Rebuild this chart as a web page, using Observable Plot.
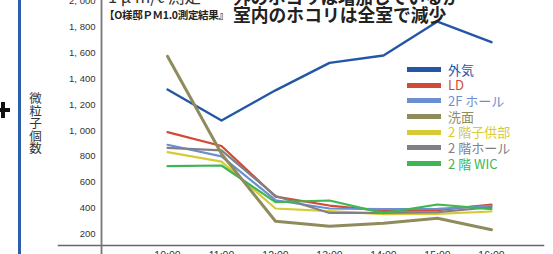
<!DOCTYPE html>
<html>
<head>
<meta charset="utf-8">
<script src="https://cdn.jsdelivr.net/npm/d3@7"></script>
<script src="https://cdn.jsdelivr.net/npm/@observablehq/plot@0.6"></script>
<style>
  html, body { margin: 0; padding: 0; background: #fff; }
  #wrap { position: relative; width: 553px; height: 254px; overflow: hidden; background: #fff; }
  #wrap svg { position: absolute; left: 0; top: 0; }
  .t { position: absolute; white-space: nowrap; font-family: "Noto Sans CJK JP", sans-serif; color: #222; line-height: 1.2; }
  .legend { position: absolute; left: 407px; top: 61.5px; font-family: "Noto Sans CJK JP", sans-serif; font-size: 13px; line-height: 15.7px; }
  .legend .row { display: flex; align-items: center; height: 15.7px; }
  .legend .sw { width: 34px; height: 5px; margin-right: 7px; }
</style>
</head>
<body>
<div id="wrap"></div>
<script>
const times = ["10:00", "11:00", "12:00", "13:00", "14:00", "15:00", "16:00"];
const seriesNames = ["外気", "LD", "2F ホール", "洗面", "2 階子供部", "2 階ホール", "2 階 WIC"];
const seriesColors = ["#2456a6", "#d04a35", "#6b8fd1", "#8e8c5c", "#d6cb36", "#808088", "#3db653"];
const outside = [1316, 1077, 1310, 1522, 1579, 1841, 1681];
const ld      = [987, 880, 490, 421, 380, 386, 429];
const hall2F  = [890, 800, 462, 398, 393, 396, 419];
const senmen  = [1573, 820, 300, 262, 285, 323, 234];
const kodomo  = [833, 760, 398, 378, 354, 357, 375];
const hall2   = [866, 846, 495, 364, 364, 370, 408];
const wic     = [725, 730, 447, 460, 363, 429, 393];
const yTicks = [0, 200, 400, 600, 800, 1000, 1200, 1400, 1600, 1800, 2000];

const valuesBySeries = [outside, ld, hall2F, senmen, kodomo, hall2, wic];
const rows = [];
seriesNames.forEach((s, i) => times.forEach((t, j) => rows.push({series: s, time: t, value: valuesBySeries[i][j]})));

const drawOrder = ["外気", "LD", "2F ホール", "2 階子供部", "2 階ホール", "2 階 WIC", "洗面"];
const widths = {"外気": 2.4, "洗面": 3};

const fmt = d => d3.format(",")(d).replace(",", ", ");

const chart = Plot.plot({
  width: 553,
  height: 254,
  marginTop: 0.4,
  marginBottom: 9,
  marginLeft: 101,
  marginRight: 10,
  style: {fontFamily: "'Liberation Sans', Arial, sans-serif", color: "#333", background: "transparent"},
  x: {type: "point", domain: times, range: [138.3, 520]},
  y: {domain: [0, 2000], range: [259.6, 0.4]},
  color: {domain: seriesNames, range: seriesColors},
  marks: [
    Plot.frame({anchor: "bottom", stroke: "#666", strokeWidth: 1.5, insetLeft: -43}),
    Plot.frame({anchor: "left", stroke: "#777", strokeWidth: 1.8, insetBottom: -12}),
    Plot.axisY({ticks: yTicks, tickSize: 0, tickPadding: 6, tickFormat: fmt, fontSize: 9.5, label: null, fill: "#333"}),
    Plot.axisX({tickSize: 0, tickPadding: 6, fontSize: 10.5, label: null, fill: "#333"}),
    ...drawOrder.map(s => Plot.line(rows.filter(r => r.series === s), {
      x: "time", y: "value", stroke: "series", strokeWidth: widths[s] || 2.2, curve: "linear"
    }))
  ]
});

const wrap = document.getElementById("wrap");
wrap.appendChild(chart);

// left decorations
const bar = document.createElement("div");
bar.style.cssText = "position:absolute;left:18px;top:0;width:3px;height:254px;background:#2a5fb0;";
wrap.appendChild(bar);
const ph = document.createElement("div");
ph.style.cssText = "position:absolute;left:-5px;top:108px;width:15px;height:4px;background:#111;";
wrap.appendChild(ph);
const pv = document.createElement("div");
pv.style.cssText = "position:absolute;left:1px;top:102px;width:4px;height:16px;background:#111;";
wrap.appendChild(pv);

function addText(txt, css) {
  const d = document.createElement("div");
  d.className = "t";
  d.textContent = txt;
  d.style.cssText += css;
  wrap.appendChild(d);
  return d;
}
addText("微粒子個数", "left:28px;top:92px;writing-mode:vertical-rl;font-size:12.5px;line-height:14px;color:#333;letter-spacing:0px;");
addText("1 μ m/ℓ 測定", "left:108px;top:-13px;font-size:16.5px;color:#333;");
addText("外のホコリは増加しているが", "left:233px;top:-14px;font-size:17.5px;font-weight:bold;");
addText("【O様邸ＰＭ1.0測定結果』", "left:104px;top:9px;font-size:10.5px;font-weight:bold;color:#222;letter-spacing:-0.3px;");
addText("室内のホコリは全室で減少", "left:233px;top:4px;font-size:17.8px;font-weight:bold;");

// legend
const lg = document.createElement("div");
lg.className = "legend";
seriesNames.forEach((s, i) => {
  const r = document.createElement("div");
  r.className = "row";
  const sw = document.createElement("div");
  sw.className = "sw";
  sw.style.background = seriesColors[i];
  const lab = document.createElement("span");
  lab.textContent = s;
  lab.style.color = seriesColors[i];
  r.appendChild(sw); r.appendChild(lab);
  lg.appendChild(r);
});
wrap.appendChild(lg);
</script>
</body>
</html>
